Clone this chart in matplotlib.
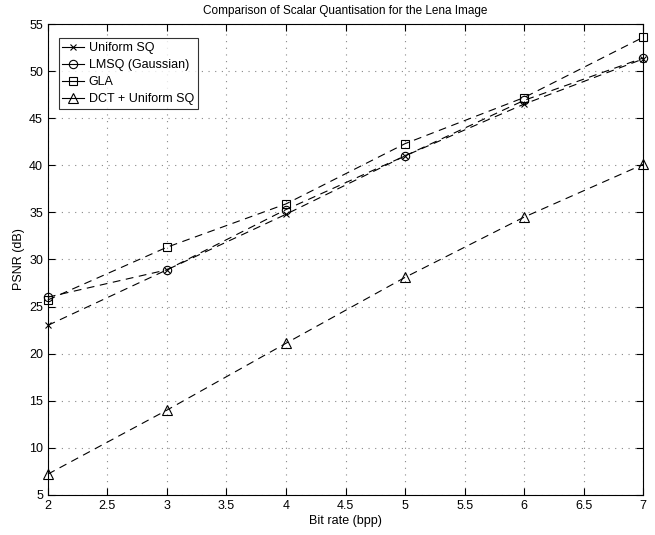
import matplotlib
matplotlib.use("Agg")
import matplotlib.pyplot as plt

plt.rcParams['font.family'] = ['Liberation Sans', 'DejaVu Sans']

bitrate = [2, 3, 4, 5, 6, 7]
uniform_sq = [23.0, 28.9, 34.8, 41.0, 46.5, 51.3]
lmsq = [26.0, 28.9, 35.3, 41.0, 46.9, 51.4]
gla = [25.7, 31.3, 35.9, 42.3, 47.2, 53.6]
dct_uniform = [7.2, 14.0, 21.1, 28.1, 34.5, 40.1]

labels = ['Uniform SQ', 'LMSQ (Gaussian)', 'GLA', 'DCT + Uniform SQ']
markers = ['x', 'o', 's', '^']
msizes = [5, 6, 5.5, 6.5]
xticks = [2, 2.5, 3, 3.5, 4, 4.5, 5, 5.5, 6, 6.5, 7]
yticks = [5, 10, 15, 20, 25, 30, 35, 40, 45, 50, 55]

fig = plt.figure(figsize=(6.55, 5.35), dpi=100)
ax = fig.add_axes([0.073, 0.075, 0.909, 0.880])

for ys, lab, m, ms in zip([uniform_sq, lmsq, gla, dct_uniform], labels, markers, msizes):
    ax.plot(bitrate, ys, linestyle=(0, (7, 5)), color='black', linewidth=0.8,
            marker=m, markersize=ms, markerfacecolor='none', markeredgecolor='black',
            markeredgewidth=0.8, label=lab, clip_on=False)

ax.set_xlim(2, 7)
ax.set_ylim(5, 55)
ax.set_xticks(xticks)
ax.set_xticklabels([f'{t:g}' for t in xticks])
ax.set_yticks(yticks)
ax.grid(True, linestyle=(0, (1, 5)), color='#888888', linewidth=0.8)
ax.tick_params(direction='in', length=5, labelsize=9, top=True, right=True)
for s in ax.spines.values():
    s.set_linewidth(0.8)
ax.set_xlabel('Bit rate (bpp)', fontsize=9, labelpad=2)
ax.set_ylabel('PSNR (dB)', fontsize=9, labelpad=3)
ax.set_title('Comparison of Scalar Quantisation for the Lena Image', fontsize=8.5, pad=7)

leg = ax.legend(loc='upper left', bbox_to_anchor=(0.012, 0.978), fontsize=9,
                frameon=True, fancybox=False, edgecolor='black', handlelength=1.7,
                borderpad=0.3, labelspacing=0.4, handletextpad=0.4, borderaxespad=0.3)
leg.get_frame().set_linewidth(0.8)
for h in leg.get_lines():
    h.set_linestyle('-')

fig.savefig('out.png', dpi=100)
